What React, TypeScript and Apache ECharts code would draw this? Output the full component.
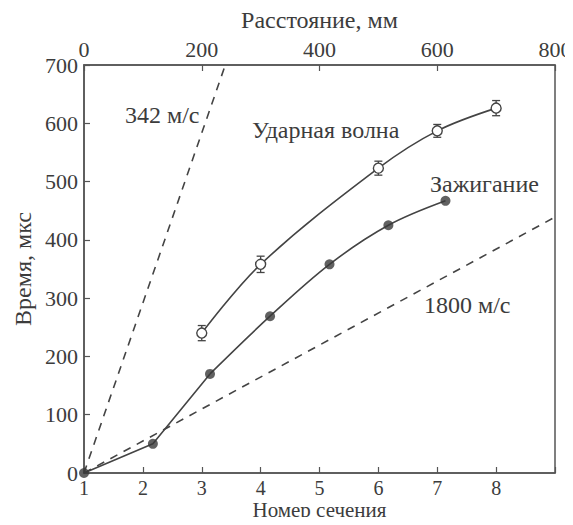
import { useEffect, useRef } from "react";
import * as echarts from "echarts";

const ignitionSection = [1, 2.17, 3.14, 4.16, 5.17, 6.17, 7.14];
const ignitionTime = [0, 50, 170, 269, 358, 425, 467];
const shockSection = [3, 4, 6, 7, 8];
const shockTime = [240, 358, 523, 587, 626];
const shockError = [13, 14, 12, 11, 13];
const line342Distance = [0, 240];
const line342Time = [0, 700];
const line1800Distance = [0, 800];
const line1800Time = [0, 439];

const INK = "#3c3c3c";
const FONT = "'Liberation Serif', 'DejaVu Serif', serif";

export default function App() {
  const ref = useRef<HTMLDivElement>(null);
  useEffect(() => {
    if (!ref.current) return;
    const chart = echarts.init(ref.current, undefined, { renderer: "svg" });
    const ignition = ignitionSection.map((x, i) => [x, ignitionTime[i]]);
    const shock = shockSection.map((x, i) => [x, shockTime[i]]);
    const shockErr = shockSection.map((x, i) => [x, shockTime[i], shockError[i]]);
    const l342 = line342Distance.map((x, i) => [x, line342Time[i]]);
    const l1800 = line1800Distance.map((x, i) => [x, line1800Time[i]]);
    const tickStyle = { color: INK, fontFamily: FONT, fontSize: 22 };
    const nameStyle = { color: INK, fontFamily: FONT, fontSize: 24 };
    const txt = (text: string, x: number, y: number) => ({
      type: "text",
      x,
      y,
      style: { text, fill: INK, font: `24px ${FONT}`, align: "left", verticalAlign: "middle" },
    });
    chart.setOption({
      animation: false,
      backgroundColor: "#ffffff",
      grid: {
        left: 84,
        right: 18,
        top: 65,
        bottom: 52,
        containLabel: false,
        outerBoundsMode: "none",
        show: true,
        borderColor: "#555",
        borderWidth: 1.5,
      },
      xAxis: [
        {
          type: "value",
          position: "bottom",
          min: 1,
          max: 9,
          interval: 1,
          name: "Номер сечения",
          nameLocation: "middle",
          nameGap: 26,
          nameMoveOverlap: false,
          nameTextStyle: { ...nameStyle, fontSize: 21 },
          axisLine: { show: true, lineStyle: { color: "#555", width: 1.5 } },
          axisTick: { show: true, inside: true, length: 6, lineStyle: { color: "#555", width: 1.2 } },
          axisLabel: { ...tickStyle, fontSize: 20, margin: 5, formatter: (v: number) => (v === 9 ? "" : String(v)) },
          splitLine: { show: false },
        },
        {
          type: "value",
          position: "top",
          min: 0,
          max: 800,
          interval: 200,
          name: "Расстояние, мм",
          nameLocation: "middle",
          nameGap: 33,
          nameMoveOverlap: false,
          nameTextStyle: nameStyle,
          axisLine: { show: true, lineStyle: { color: "#555", width: 1.5 } },
          axisTick: { show: true, inside: true, length: 6, lineStyle: { color: "#555", width: 1.2 } },
          axisLabel: { ...tickStyle, margin: 5 },
          splitLine: { show: false },
        },
      ],
      yAxis: {
        type: "value",
        min: 0,
        max: 700,
        interval: 100,
        name: "Время, мкс",
        nameLocation: "middle",
        nameGap: 49,
        nameMoveOverlap: false,
        nameTextStyle: nameStyle,
        axisLine: { show: true, lineStyle: { color: "#555", width: 1.5 } },
        axisTick: { show: true, inside: true, length: 6, lineStyle: { color: "#555", width: 1.2 } },
        axisLabel: { ...tickStyle, margin: 6 },
        splitLine: { show: false },
      },
      graphic: [
        txt("342 м/с", 125, 115),
        txt("Ударная волна", 252, 130),
        txt("Зажигание", 430, 184),
        txt("1800 м/с", 424, 305),
      ],
      series: [
        {
          type: "line",
          xAxisIndex: 1,
          data: l342,
          symbol: "none",
          lineStyle: { color: "#444", width: 1.6, type: [8, 7] },
        },
        {
          type: "line",
          xAxisIndex: 1,
          data: l1800,
          symbol: "none",
          lineStyle: { color: "#444", width: 1.6, type: [8, 7] },
        },
        {
          type: "line",
          xAxisIndex: 0,
          data: ignition.slice(0, 3),
          symbol: "none",
          lineStyle: { color: "#444", width: 1.6 },
        },
        {
          type: "line",
          xAxisIndex: 0,
          data: ignition.slice(2),
          smooth: 0.35,
          symbol: "none",
          lineStyle: { color: "#444", width: 1.6 },
        },
        {
          type: "scatter",
          xAxisIndex: 0,
          data: ignition,
          symbol: "circle",
          symbolSize: 10,
          itemStyle: { color: "#3a3a3a" },
          z: 5,
        },
        {
          type: "custom",
          xAxisIndex: 0,
          data: shockErr,
          encode: { x: 0, y: 1 },
          z: 3,
          renderItem: (_p: any, api: any) => {
            const x = api.value(0);
            const y = api.value(1);
            const e = api.value(2);
            const t = api.coord([x, y + e]);
            const b = api.coord([x, y - e]);
            const w = 4;
            const st = { stroke: "#444", lineWidth: 1.3 };
            return {
              type: "group",
              children: [
                { type: "line", shape: { x1: t[0], y1: t[1], x2: b[0], y2: b[1] }, style: st },
                { type: "line", shape: { x1: t[0] - w, y1: t[1], x2: t[0] + w, y2: t[1] }, style: st },
                { type: "line", shape: { x1: b[0] - w, y1: b[1], x2: b[0] + w, y2: b[1] }, style: st },
              ],
            };
          },
        },
        {
          type: "line",
          xAxisIndex: 0,
          data: shock,
          smooth: 0.35,
          symbol: "circle",
          symbolSize: 10,
          showAllSymbol: true,
          itemStyle: { color: "#ffffff", borderColor: "#444", borderWidth: 1.4 },
          lineStyle: { color: "#444", width: 1.6 },
          z: 6,
        },
      ],
    });
    return () => chart.dispose();
  }, []);
  return <div ref={ref} style={{ width: 573, height: 525, margin: -8 }} />;
}
